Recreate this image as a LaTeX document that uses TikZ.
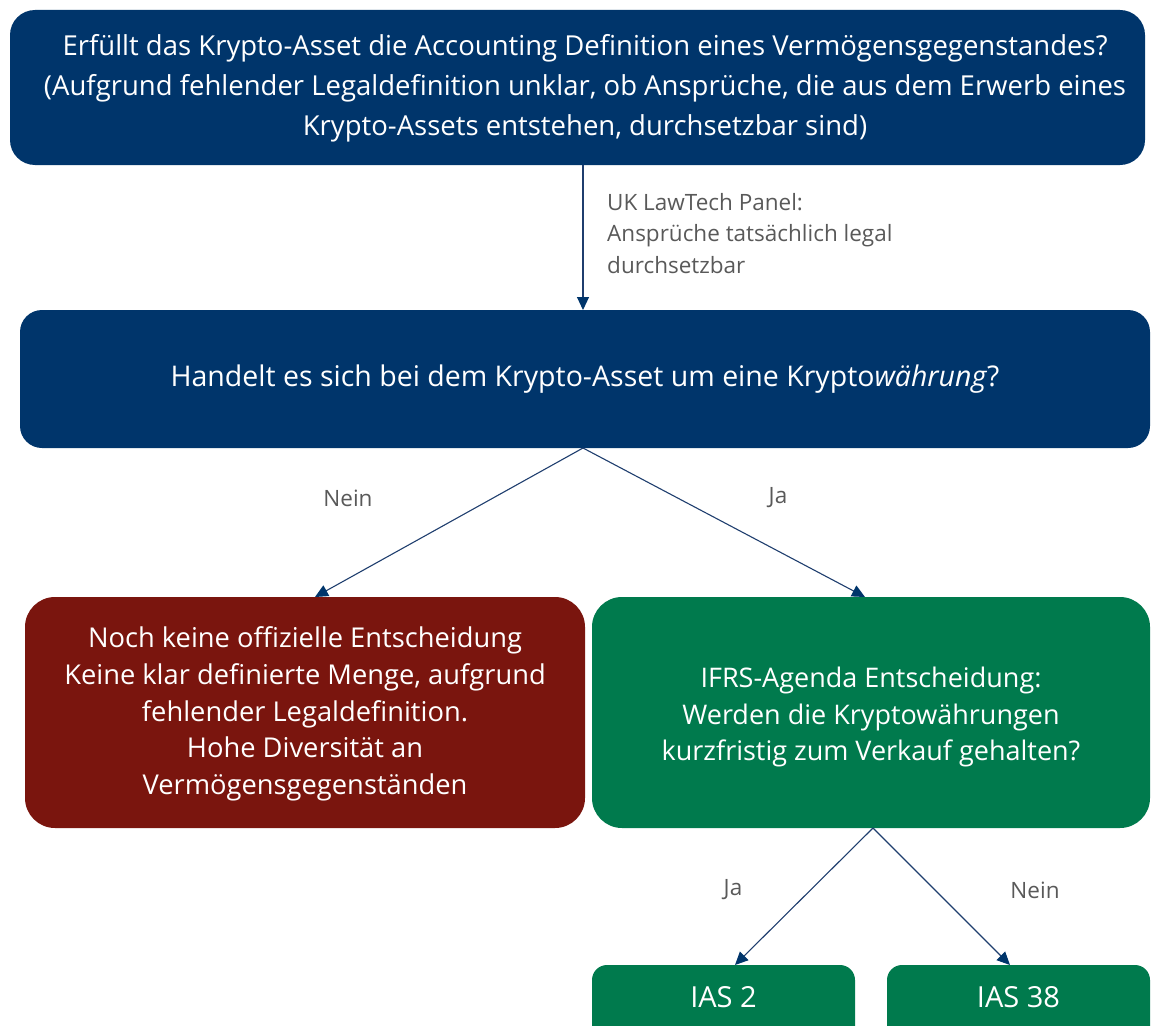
\documentclass[tikz,border=0pt]{standalone}
\usepackage{fontspec}
\setmainfont{Open Sans}
\usetikzlibrary{arrows.meta}
\definecolor{dblue}{RGB}{0,53,107}
\definecolor{dred}{RGB}{122,21,14}
\definecolor{dgreen}{RGB}{0,122,77}
\definecolor{lgrey}{RGB}{89,89,89}
\definecolor{arrowc}{RGB}{31,62,110}
\tikzset{
  box/.style={draw=none, rounded corners=#1, inner sep=0pt, align=center, text=white},
  conn/.style={draw=arrowc, line width=1.1pt, -{Triangle[width=12pt,length=13pt,color=dblue]}},
  lbl/.style={text=lgrey, font=\fontsize{22.5}{31.5}\selectfont, inner sep=0pt},
}
\begin{document}
\begin{tikzpicture}[x=1pt,y=-1pt]
\useasboundingbox (0,0) rectangle (1156,1025);
% top box
\node[box=25pt, fill=dblue, minimum width=1135pt, minimum height=155pt] (q1) at (577.5,87.5) {};
\node[text=white, align=center, inner sep=0pt, font=\fontsize{27.5}{40}\selectfont] (q1t) at (585,88)
 {Erfüllt das Krypto-Asset die Accounting Definition eines Vermögensgegenstandes?\\
  (Aufgrund fehlender Legaldefinition unklar, ob Ansprüche, die aus dem Erwerb eines\\
  Krypto-Assets entstehen, durchsetzbar sind)};
% second box
\node[box=22pt, fill=dblue, minimum width=1130pt, minimum height=138pt,
      font=\fontsize{28.5}{40}\selectfont] (q2) at (585,379)
 {Handelt es sich bei dem Krypto-Asset um eine Krypto\textit{währung}?};
% red box
\node[box=30pt, fill=dred, minimum width=560pt, minimum height=231pt] (nr) at (305,712.5) {};
\node[text=white, align=center, inner sep=0pt, font=\fontsize{27.3}{36.8}\selectfont] (nrt) at (305,714)
 {Noch keine offizielle Entscheidung\\
  Keine klar definierte Menge, aufgrund\\
  fehlender Legaldefinition.\\
  Hohe Diversität an\\
  Vermögensgegenständen};
% green box
\node[box=30pt, fill=dgreen, minimum width=558pt, minimum height=231pt] (ifrs) at (871,712.5) {};
\node[text=white, align=center, inner sep=0pt, font=\fontsize{27}{36.5}\selectfont] (ifrst) at (871,717)
 {IFRS-Agenda Entscheidung:\\
  Werden die Kryptowährungen\\
  kurzfristig zum Verkauf gehalten?};
% IAS boxes
\node[box=15pt, fill=dgreen, minimum width=263pt, minimum height=80pt] (ias2) at (723.5,1005) {};
\node[box=15pt, fill=dgreen, minimum width=263pt, minimum height=80pt] (ias38) at (1018.5,1005) {};
\node[text=white, font=\fontsize{29}{34}\selectfont] (t2) at (723.5,997) {IAS 2};
\node[text=white, font=\fontsize{29}{34}\selectfont] (t38) at (1018.5,997) {IAS 38};
% connectors
\coordinate (a1) at (583,165);
\coordinate (a1e) at (583,310);
\draw[conn] (a1) -- (a1e);
\node[lbl, anchor=north west, align=left] (law) at (607,193)
 {UK LawTech Panel:\\Ansprüche tatsächlich legal\\durchsetzbar};
\coordinate (b0) at (583,448);
\coordinate (bl) at (315,597);
\coordinate (br) at (865,597);
\draw[conn] (b0) -- (bl);
\draw[conn] (b0) -- (br);
\node[lbl] (nein1) at (348,498) {Nein};
\node[lbl] (ja1) at (778,498) {Ja};
\coordinate (c0) at (873,828);
\coordinate (cl) at (735,965);
\coordinate (cr) at (1010,965);
\draw[conn] (c0) -- (cl);
\draw[conn] (c0) -- (cr);
\node[lbl] (ja2) at (733,890) {Ja};
\node[lbl] (nein2) at (1035,890) {Nein};
\end{tikzpicture}
\end{document}
